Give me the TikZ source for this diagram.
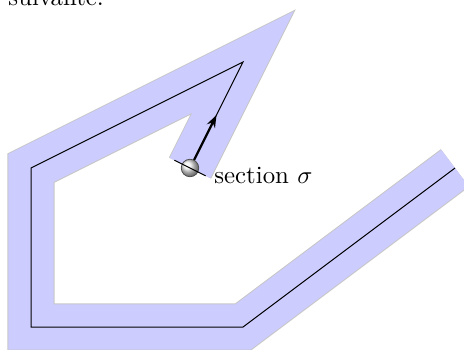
\documentclass[tikz,border=0pt]{standalone}
\usetikzlibrary{arrows.meta,calc}
\begin{document}
\begin{tikzpicture}[x=0.75cm,y=0.75cm,
  bandedge/.style={line width=19pt, draw=gray!45},
  bandfill/.style={line width=18.2pt, draw=blue!20},
  centre/.style={draw=black, line width=0.4pt},
  sectline/.style={draw=black, line width=0.4pt},
  motion/.style={draw=black, line width=0.9pt, -{Stealth[length=5pt,width=3.6pt]}},
]
\useasboundingbox (-0.585,-0.415) rectangle (8.170,6.170);
\coordinate (p1) at (8,3);
\coordinate (p2) at (4,0);
\coordinate (p3) at (0,0);
\coordinate (p4) at (0,3);
\coordinate (p5) at (4,5);
\coordinate (p6) at (3,3);
\coordinate (tip) at (3.5,4);
\coordinate (s1) at ($(p6)+(0.295,-0.1475)$);
\coordinate (s2) at ($(p6)+(-0.295,0.1475)$);
\draw[bandedge] (p1)--(p2)--(p3)--(p4)--(p5)--(p6);
\draw[bandfill] (p1)--(p2)--(p3)--(p4)--(p5)--(p6);
\draw[centre] (p1)--(p2)--(p3)--(p4)--(p5)--(p6);
\draw[motion] (p6) -- (tip);
\shade[ball color=gray!12, draw=black!70, line width=0.3pt] (p6) circle (0.165);
\draw[sectline] (s2) -- (s1);
\node[right] (lab) at (s1) {section $\sigma$};
\node[anchor=base west, inner sep=0pt] (top) at (-0.434,6.075) {suivante.};
\end{tikzpicture}
\end{document}
